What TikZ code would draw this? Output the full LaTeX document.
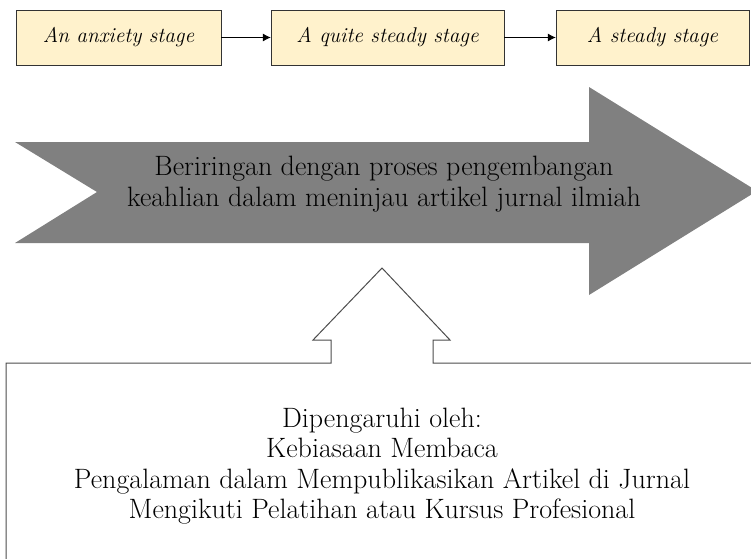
\documentclass[tikz,border=0pt]{standalone}
\usetikzlibrary{arrows.meta}

\definecolor{stagefill}{HTML}{FFF2CC}
\definecolor{bigarrow}{HTML}{808080}

\tikzset{
  stage/.style={draw=black!80, fill=stagefill, minimum height=55pt, inner sep=0pt,
    font=\fontsize{21.3}{25}\selectfont\itshape},
  link/.style={-{Latex[length=8pt,width=8pt]}, line width=0.8pt},
}

\begin{document}
\begin{tikzpicture}[x=1pt,y=-1pt]
    \useasboundingbox (0,0) rectangle (751,558);

    % Top row of stages
    \node[stage, minimum width=205pt] (anxiety) at (118.5,37.5) {An anxiety stage};
    \node[stage, minimum width=233pt] (quite)   at (387.5,37.5) {A quite steady stage};
    \node[stage, minimum width=193pt] (steady)  at (652.5,37.5) {A steady stage};

    \draw[link] (anxiety) -- (quite);
    \draw[link] (quite) -- (steady);

    % Big grey arrow (notched tail, head cut by the right edge)
    \fill[bigarrow] (15,142) -- (589,142) -- (589,87) -- (757,191)
        -- (589,295) -- (589,243) -- (15,243) -- (97,192) -- cycle;
    \node[align=center, font=\fontsize{28}{31}\selectfont] (process) at (384,184.5)
        {Beriringan dengan proses pengembangan\\keahlian dalam meninjau artikel jurnal ilmiah};

    % Lower box with the small up arrow on its top edge
    \draw[line width=1pt, draw=black!70] (6,570) -- (6,363) -- (331,363) -- (331,340)
        -- (313,340) -- (382,268) -- (450,340) -- (433,340) -- (433,363) -- (760,363);
    \node[align=center, font=\fontsize{28}{30.5}\selectfont] (factors) at (382,466)
        {Dipengaruhi oleh:\\Kebiasaan Membaca\\Pengalaman dalam Mempublikasikan Artikel di Jurnal\\Mengikuti Pelatihan atau Kursus Profesional};

\end{tikzpicture}
\end{document}
